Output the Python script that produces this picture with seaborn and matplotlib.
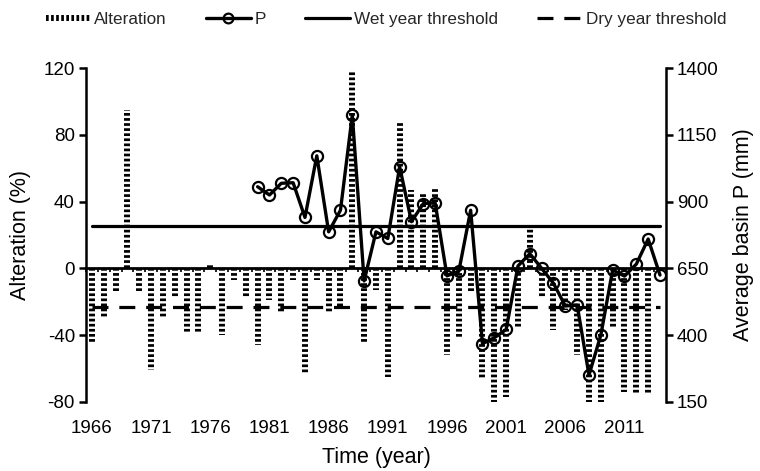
import numpy as np
import pandas as pd
import seaborn as sns
import matplotlib.pyplot as plt
from matplotlib.lines import Line2D

# data
years = list(range(1966, 2015))
alteration = [-45, -30, -14, 95, -14, -61, -29, -17, -39, -39,
              3, -40, -7, -17, -46, -19, -27, -7, -63, -7,
              -27, -23, 119, -45, -13, -65, 87, 47, 46, 49,
              -52, -41, -15, -66, -80, -77, -35, 24, -17, -37,
              -25, -52, -80, -80, -35, -74, -75, -75, -3]
p_years = list(range(1980, 2015))
p_mm = [956, 925, 969, 971, 841, 1072, 787, 868, 1225, 603,
        787, 762, 1031, 825, 893, 896, 622, 639, 868, 368,
        390, 421, 659, 705, 650, 594, 509, 512, 250, 400,
        644, 621, 666, 760, 625]
wet_threshold = 808
dry_threshold = 506
xtick_years = list(range(1966, 2012, 5))

sns.set_theme(style="white")
plt.rcParams['font.family'] = ['Liberation Sans', 'DejaVu Sans']
plt.rcParams['axes.unicode_minus'] = False

fig = plt.figure(figsize=(7.6, 4.71), dpi=100)
ax = fig.add_axes([0.1132, 0.147, 0.763, 0.708])
ax2 = ax.twinx()

# alteration columns drawn as thick dotted strokes
dot = (0, (0.45, 0.4))
ax.vlines(years, 0, alteration, colors="black", linewidth=4.3, linestyles=dot)
ax.set_xlim(1965.5, 2014.5)
ax.set_ylim(-80, 120)
ax.set_yticks(range(-80, 121, 40))
ax.set_xticks(xtick_years)
ax.set_xticklabels([str(y) for y in xtick_years])

# zero line with category ticks
zero = ax.secondary_xaxis(0.4)
zero.set_xticks(np.arange(1965.5, 2015, 1))
zero.tick_params(axis="x", direction="out", length=3, width=1.2,
                 labelbottom=False, color="black")
zero.spines["bottom"].set_linewidth(2)
zero.spines["bottom"].set_color("black")

# thresholds and P on right axis
thr = pd.DataFrame({"year": years,
                    "wet": [wet_threshold] * len(years),
                    "dry": [dry_threshold] * len(years)})
sns.lineplot(data=thr, x="year", y="wet", ax=ax2, color="black", linewidth=2.3)
sns.lineplot(data=thr, x="year", y="dry", ax=ax2, color="black", linewidth=2.3)
ax2.lines[-1].set_dashes((5, 3.4))
pdf = pd.DataFrame({"year": p_years, "P": p_mm})
sns.lineplot(data=pdf, x="year", y="P", ax=ax2, color="black", linewidth=2.4,
             marker="o", markersize=8, markerfacecolor="none",
             markeredgecolor="black", markeredgewidth=1.6)
ax2.set_ylim(150, 1400)
ax2.set_yticks(range(150, 1401, 250))
ax2.set_xlim(1965.5, 2014.5)

for a in (ax, ax2):
    for s in a.spines.values():
        s.set_visible(False)
ax.spines["left"].set_visible(True)
ax.spines["left"].set_linewidth(1.8)
ax.spines["left"].set_color("black")
ax2.spines["right"].set_visible(True)
ax2.spines["right"].set_linewidth(1.8)
ax2.spines["right"].set_color("black")

ax.tick_params(axis="y", left=True, direction="out", length=5, width=1.8,
               labelsize=13.5, colors="black", pad=3)
ax.tick_params(axis="x", bottom=False, labelsize=13.5, colors="black", pad=7)
ax2.tick_params(axis="y", right=True, direction="out", length=5, width=1.8,
                labelsize=13.5, colors="black", pad=3)

ax.set_xlabel("Time (year)", fontsize=15.5, color="black", labelpad=7)
ax.set_ylabel("Alteration (%)", fontsize=15.5, color="black", labelpad=9)
ax2.set_ylabel("Average basin P (mm)", fontsize=15.5, color="black", labelpad=10)

handles = [
    Line2D([], [], color="black", linewidth=4.3, linestyle=dot),
    Line2D([], [], color="black", linewidth=2.4, marker="o", markersize=7,
           markerfacecolor="none", markeredgewidth=1.6),
    Line2D([], [], color="black", linewidth=2.3),
    Line2D([], [], color="black", linewidth=2.3, dashes=(5, 3.4)),
]
labels = ["Alteration", "P", "Wet year threshold", "Dry year threshold"]
fig.legend(handles, labels, loc="upper center", bbox_to_anchor=(0.508, 1.008),
           ncol=4, frameon=False, fontsize=12.3, handlelength=2.6,
           columnspacing=2.3, handletextpad=0.25)

fig.savefig("out.png", dpi=100)
